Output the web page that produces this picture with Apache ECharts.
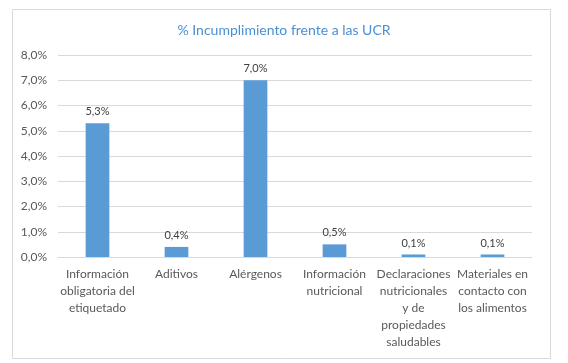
<!DOCTYPE html>
<html>
<head>
<meta charset="utf-8">
<script src="https://cdn.jsdelivr.net/npm/echarts@6/dist/echarts.min.js"></script>
<style>html,body{margin:0;padding:0;background:#fff}#c{width:568px;height:363px}</style>
</head>
<body>
<div id="c"></div>
<script>
var titleText = '% Incumplimiento frente a las UCR';
var categories = ['Información obligatoria del etiquetado', 'Aditivos', 'Alérgenos', 'Información nutricional', 'Declaraciones nutricionales y de propiedades saludables', 'Materiales en contacto con los alimentos'];
var categoryLabels = ['Información\nobligatoria del\netiquetado', 'Aditivos', 'Alérgenos', 'Información\nnutricional', 'Declaraciones\nnutricionales\ny de\npropiedades\nsaludables', 'Materiales en\ncontacto con\nlos alimentos'];
var values = [5.3, 0.4, 7.0, 0.5, 0.1, 0.1];
var yMin = 0, yMax = 8, yStep = 1;

var font = 'Lato, "Open Sans", sans-serif';
var chart = echarts.init(document.getElementById('c'), null, {renderer: 'canvas'});
chart.setOption({
  animation: false,
  backgroundColor: '#fff',
  graphic: [{
    type: 'rect', left: 10, top: 7, shape: {width: 538, height: 349},
    style: {fill: 'none', stroke: '#d9d9d9', lineWidth: 1}, silent: true
  }],
  title: {
    text: titleText, left: 'center', top: 18,
    textStyle: {color: '#4a8fd6', fontSize: 14, fontWeight: 'normal', fontFamily: font}
  },
  grid: {left: 58, right: 36, top: 55, bottom: 106, containLabel: false},
  xAxis: {
    type: 'category', data: categories,
    axisLine: {lineStyle: {color: '#d9d9d9'}},
    axisTick: {show: false},
    axisLabel: {
      interval: 0, margin: 9, color: '#595959', fontSize: 12, lineHeight: 17, fontFamily: font,
      formatter: function (v, i) { return categoryLabels[i]; }
    }
  },
  yAxis: {
    type: 'value', min: yMin, max: yMax, interval: yStep,
    axisLine: {show: false}, axisTick: {show: false},
    splitLine: {lineStyle: {color: '#d9d9d9'}},
    axisLabel: {
      color: '#595959', fontSize: 12, margin: 11, fontFamily: font,
      formatter: function (v) { return v.toFixed(1).replace('.', ',') + '%'; }
    }
  },
  series: [{
    type: 'bar', data: values, barWidth: '30%',
    itemStyle: {color: '#5b9bd5'},
    label: {
      show: true, position: 'top', distance: 6, color: '#404040', fontSize: 11, fontFamily: font,
      formatter: function (p) { return p.value.toFixed(1).replace('.', ',') + '%'; }
    }
  }]
});
</script>
</body>
</html>
